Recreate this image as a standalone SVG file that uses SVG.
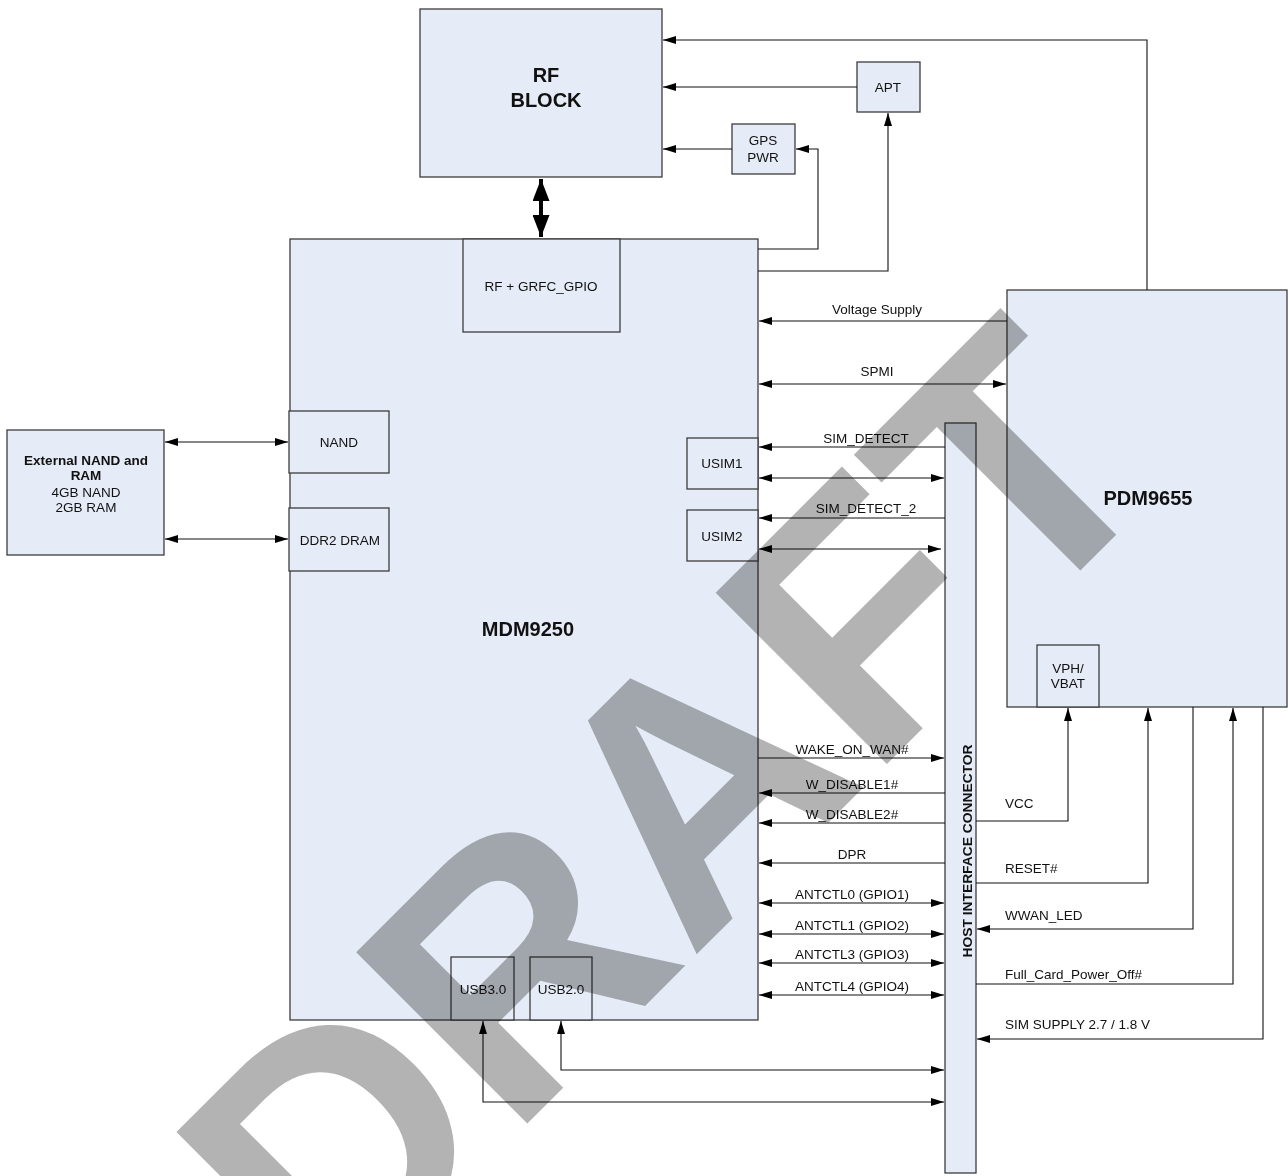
<svg xmlns="http://www.w3.org/2000/svg" width="1288" height="1176" viewBox="0 0 1288 1176">
<style>
.box{fill:#e6ecf7;stroke:#3c3c3c;stroke-width:1.3}
.t{font-family:"Liberation Sans",Arial,sans-serif;font-size:13.5px;fill:#111}
.c{text-anchor:middle}
.b{font-weight:bold}
.big{font-family:"Liberation Sans",Arial,sans-serif;font-size:20px;font-weight:bold;fill:#111;text-anchor:middle}
.ln{fill:none;stroke:#111;stroke-width:1.1}
.e{marker-end:url(#ah)}
.d{marker-start:url(#ah);marker-end:url(#ah)}
.wm{font-family:"Liberation Sans",Arial,sans-serif;font-weight:bold;font-size:352px;fill:#b3b3b3;mix-blend-mode:multiply}
</style>
<defs>
<marker id="ah" viewBox="0 0 13 8" refX="13" refY="4" markerWidth="13" markerHeight="8" markerUnits="userSpaceOnUse" orient="auto-start-reverse"><path d="M0,0 L13,4 L0,8 z" fill="#000"/></marker>
<marker id="bh" viewBox="0 0 22 17" refX="22" refY="8.5" markerWidth="22" markerHeight="17" markerUnits="userSpaceOnUse" orient="auto-start-reverse"><path d="M0,0 L22,8.5 L0,17 z" fill="#000"/></marker>
</defs>
<rect width="1288" height="1176" fill="#fff"/>

<g id="mdm9250"><rect class="box" x="290" y="239" width="468" height="781"/><text class="big" x="528" y="636">MDM9250</text></g>
<g id="rf-block"><rect class="box" x="420" y="9" width="242" height="168"/><text class="big" x="546" y="82">RF</text><text class="big" x="546" y="107">BLOCK</text></g>
<g id="apt"><rect class="box" x="857" y="62" width="63" height="50"/><text class="t c" x="888" y="92">APT</text></g>
<g id="gps-pwr"><rect class="box" x="732" y="124" width="63" height="50"/><text class="t c" x="763" y="145">GPS</text><text class="t c" x="763" y="162">PWR</text></g>
<g id="rf-grfc"><rect class="box" x="463" y="239" width="157" height="93"/><text class="t c" x="541" y="291">RF + GRFC_GPIO</text></g>
<g id="nand"><rect class="box" x="289" y="411" width="100" height="62"/><text class="t c" x="339" y="447">NAND</text></g>
<g id="ddr2"><rect class="box" x="289" y="508" width="100" height="63"/><text class="t c" x="340" y="545">DDR2 DRAM</text></g>
<g id="usim1"><rect class="box" x="687" y="438" width="71" height="51"/><text class="t c" x="722" y="468">USIM1</text></g>
<g id="usim2"><rect class="box" x="687" y="510" width="71" height="51"/><text class="t c" x="722" y="541">USIM2</text></g>
<g id="usb30"><rect class="box" x="451" y="957" width="63" height="63"/><text class="t c" x="483" y="994">USB3.0</text></g>
<g id="usb20"><rect class="box" x="530" y="957" width="62" height="63"/><text class="t c" x="561" y="994">USB2.0</text></g>
<g id="ext-mem"><rect class="box" x="7" y="430" width="157" height="125"/><text class="t c b" x="86" y="465">External NAND and</text><text class="t c b" x="86" y="480">RAM</text><text class="t c" x="86" y="497">4GB NAND</text><text class="t c" x="86" y="512">2GB RAM</text></g>
<g id="pdm9655"><rect class="box" x="1007" y="290" width="280" height="417"/><text class="big" x="1148" y="505">PDM9655</text></g>
<g id="vph"><rect class="box" x="1037" y="645" width="62" height="62"/><text class="t c" x="1068" y="673">VPH/</text><text class="t c" x="1068" y="688">VBAT</text></g>
<g id="host-connector"><rect class="box" x="945" y="423" width="31" height="750"/><text class="t c b" transform="translate(972,851) rotate(-90)" x="0" y="0" textLength="213" lengthAdjust="spacingAndGlyphs">HOST INTERFACE CONNECTOR</text></g>

<g id="connectors">
<path d="M541,179 V237" fill="none" stroke="#000" stroke-width="4" marker-start="url(#bh)" marker-end="url(#bh)"/>
<path class="ln e" d="M1147,290 V40 H663"/>
<path class="ln e" d="M857,87 H663"/>
<path class="ln e" d="M732,149 H663"/>
<path class="ln e" d="M758,249 H818 V149 H796"/>
<path class="ln e" d="M758,271 H888 V113"/>
<path class="ln d" d="M165,442 H288"/>
<path class="ln d" d="M165,539 H288"/>
<path class="ln e" d="M1007,321 H759"/>
<path class="ln d" d="M759,384 H1006"/>
<path class="ln e" d="M945,447 H759"/>
<path class="ln d" d="M759,478 H944"/>
<path class="ln e" d="M945,518 H759"/>
<path class="ln d" d="M759,549 H941"/>
<path class="ln e" d="M758,758 H944"/>
<path class="ln e" d="M945,793 H759"/>
<path class="ln e" d="M945,823 H759"/>
<path class="ln e" d="M945,863 H759"/>
<path class="ln d" d="M759,903 H944"/>
<path class="ln d" d="M759,934 H944"/>
<path class="ln d" d="M759,963 H944"/>
<path class="ln d" d="M759,995 H944"/>
<path class="ln d" d="M561,1021 V1070 H944"/>
<path class="ln d" d="M483,1021 V1102 H944"/>
<path class="ln e" d="M976,821 H1068 V708"/>
<path class="ln e" d="M976,883 H1148 V708"/>
<path class="ln e" d="M1193,707 V929 H977"/>
<path class="ln e" d="M976,984 H1233 V708"/>
<path class="ln e" d="M1263,707 V1039 H977"/>
<text class="t c" x="877" y="314">Voltage Supply</text>
<text class="t c" x="877" y="376">SPMI</text>
<text class="t c" x="866" y="443">SIM_DETECT</text>
<text class="t c" x="866" y="513">SIM_DETECT_2</text>
<text class="t c" x="852" y="754">WAKE_ON_WAN#</text>
<text class="t c" x="852" y="789">W_DISABLE1#</text>
<text class="t c" x="852" y="819">W_DISABLE2#</text>
<text class="t c" x="852" y="859">DPR</text>
<text class="t c" x="852" y="899">ANTCTL0 (GPIO1)</text>
<text class="t c" x="852" y="930">ANTCTL1 (GPIO2)</text>
<text class="t c" x="852" y="959">ANTCTL3 (GPIO3)</text>
<text class="t c" x="852" y="991">ANTCTL4 (GPIO4)</text>
<text class="t" x="1005" y="808">VCC</text>
<text class="t" x="1005" y="873">RESET#</text>
<text class="t" x="1005" y="920">WWAN_LED</text>
<text class="t" x="1005" y="979">Full_Card_Power_Off#</text>
<text class="t" x="1005" y="1029">SIM SUPPLY 2.7 / 1.8 V</text>
</g>

<text class="wm" transform="translate(331,1320) rotate(-45)" x="0" y="0">DRAFT</text>
</svg>
